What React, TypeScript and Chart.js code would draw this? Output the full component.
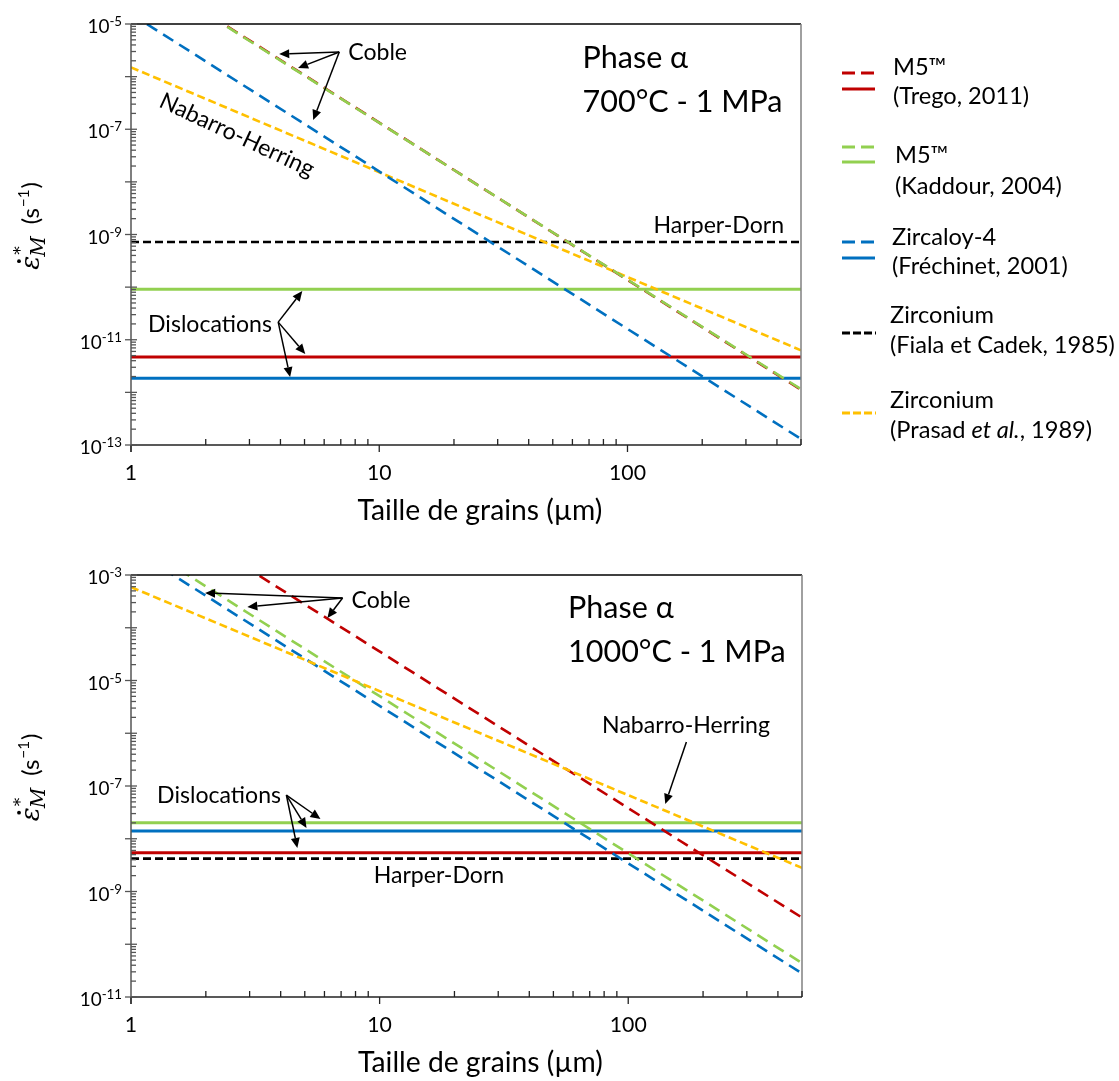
import React, { useEffect, useRef } from "react";
import { Chart, registerables } from "chart.js";

Chart.register(...registerables);

const FAMILY = "Lato, 'Open Sans', sans-serif";
const SERIF = "'DejaVu Serif', 'Liberation Serif', serif";

// ---------------- data ----------------
const grainSizes = [1, 500]; // µm, ends of each straight log-log line
const xMin = 1;
const xMax = 500;
const xTickLabels = ["1", "10", "100"];
const xTickValues = [1, 10, 100];

const topYMin = 1e-13;
const topYMax = 1e-5;
const topYExps = [-5, -7, -9, -11, -13];
const bottomYMin = 1e-11;
const bottomYMax = 1e-3;
const bottomYExps = [-3, -5, -7, -9, -11];

// 700 °C - 1 MPa
const t700_tregoCoble = [1.3e-4, 1.12e-12];
const t700_kaddourCoble = [1.26e-4, 1.15e-12];
const t700_frechinetCoble = [1.55e-5, 1.3e-13];
const t700_prasadNH = [1.5e-6, 6.3e-12];
const t700_fialaHD = [7.2e-10, 7.2e-10];
const t700_tregoDisl = [4.7e-12, 4.7e-12];
const t700_kaddourDisl = [9.1e-11, 9.1e-11];
const t700_frechinetDisl = [1.85e-12, 1.85e-12];

// 1000 °C - 1 MPa
const t1000_tregoCoble = [3.3e-2, 3.2e-10];
const t1000_kaddourCoble = [4.8e-3, 4.4e-11];
const t1000_frechinetCoble = [3.2e-3, 2.8e-11];
const t1000_prasadNH = [5.9e-4, 2.8e-9];
const t1000_fialaHD = [4.2e-9, 4.2e-9];
const t1000_tregoDisl = [5.4e-9, 5.4e-9];
const t1000_kaddourDisl = [2.0e-8, 2.0e-8];
const t1000_frechinetDisl = [1.4e-8, 1.4e-8];

// legend
const RED = "#C00000";
const GREEN = "#92D050";
const BLUE = "#0070C0";
const YELLOW = "#FFC000";
const BLACK = "#000000";
const legendColors = [RED, GREEN, BLUE, BLACK, YELLOW];
const legendKinds = ["coble", "coble", "coble", "short", "short"];
const legendHasSolid = [true, true, true, false, false];
const legendNames = ["M5™", "M5™", "Zircaloy-4", "Zirconium", "Zirconium"];
const legendRefs: [string, boolean][][] = [
  [["(Trego, 2011)", false]],
  [["(Kaddour, 2004)", false]],
  [["(Fréchinet, 2001)", false]],
  [["(Fiala et Cadek, 1985)", false]],
  [["(Prasad ", false], ["et al.", true], [", 1989)", false]],
];

// annotations (positions in log10 data space: [log d, log rate])
type Note = { s: string; lx: number; ly: number; cls: string; angle?: number; align?: string; base?: string };
const topNotes: Note[] = [
  { s: "Coble", lx: 0.875, ly: -5.684, cls: "note" },
  { s: "Nabarro-Herring", lx: 0.427, ly: -7.11, cls: "note", angle: 25, align: "center", base: "middle" },
  { s: "Harper-Dorn", lx: 2.105, ly: -8.973, cls: "note" },
  { s: "Dislocations", lx: 0.0686, ly: -10.856, cls: "note" },
  { s: "Phase α", lx: 1.819, ly: -5.837, cls: "big" },
  { s: "700°C - 1 MPa", lx: 1.819, ly: -6.673, cls: "big" },
];
const topArrows = [
  [0.839, -5.532, 0.597, -5.57],
  [0.839, -5.532, 0.673, -5.837],
  [0.839, -5.532, 0.734, -6.825],
  [0.593, -10.665, 0.69, -10.076],
  [0.593, -10.665, 0.702, -11.27],
  [0.593, -10.665, 0.641, -11.71],
];
const bottomNotes: Note[] = [
  { s: "Coble", lx: 0.887, ly: -3.626, cls: "note" },
  { s: "Nabarro-Herring", lx: 1.895, ly: -5.995, cls: "note" },
  { s: "Harper-Dorn", lx: 0.976, ly: -8.839, cls: "note" },
  { s: "Dislocations", lx: 0.105, ly: -7.322, cls: "note" },
  { s: "Phase α", lx: 1.758, ly: -3.815, cls: "big" },
  { s: "1000°C - 1 MPa", lx: 1.758, ly: -4.649, cls: "big" },
];
const bottomArrows = [
  [0.851, -3.436, 0.298, -3.341],
  [0.851, -3.436, 0.468, -3.607],
  [0.851, -3.436, 0.79, -3.815],
  [2.234, -6.166, 2.149, -7.341],
  [0.625, -7.171, 0.762, -7.626],
  [0.625, -7.171, 0.706, -7.796],
  [0.625, -7.171, 0.669, -8.175],
];

// ---------------- helpers ----------------
function pts(vals: number[]) {
  return grainSizes.map((d, i) => ({ x: d, y: vals[i] }));
}

function ds(vals: number[], color: string, kind: string) {
  const dash = kind === "coble" ? [12, 7] : kind === "short" ? [8, 4] : [];
  return {
    data: pts(vals),
    borderColor: color,
    backgroundColor: color,
    borderWidth: kind === "solid" ? 3 : 2.6,
    borderDash: dash,
    borderCapStyle: "butt",
    pointRadius: 0,
    tension: 0,
    fill: false,
    clip: 0,
  };
}

function fitSize(ctx: CanvasRenderingContext2D, sample: string, target: number, family: string) {
  ctx.font = `100px ${family}`;
  const w = ctx.measureText(sample).width;
  return (100 * target) / w;
}

function arrow(ctx: CanvasRenderingContext2D, x0: number, y0: number, x1: number, y1: number) {
  const ang = Math.atan2(y1 - y0, x1 - x0);
  const hl = 10;
  const hw = 4.5;
  const bx = x1 - hl * Math.cos(ang);
  const by = y1 - hl * Math.sin(ang);
  ctx.strokeStyle = "#000";
  ctx.fillStyle = "#000";
  ctx.lineWidth = 1.5;
  ctx.setLineDash([]);
  ctx.beginPath();
  ctx.moveTo(x0, y0);
  ctx.lineTo(bx, by);
  ctx.stroke();
  ctx.beginPath();
  ctx.moveTo(x1, y1);
  ctx.lineTo(bx - hw * Math.sin(ang), by + hw * Math.cos(ang));
  ctx.lineTo(bx + hw * Math.sin(ang), by - hw * Math.cos(ang));
  ctx.closePath();
  ctx.fill();
}

function drawYTitle(ctx: CanvasRenderingContext2D, cx: number, cy: number) {
  ctx.save();
  ctx.translate(cx, cy);
  ctx.rotate(-Math.PI / 2);
  ctx.fillStyle = "#000";
  ctx.textBaseline = "alphabetic";
  ctx.textAlign = "left";
  const epsFont = `italic 26px ${SERIF}`;
  const starFont = `17px ${SERIF}`;
  const mFont = `italic 20px ${SERIF}`;
  const mainFont = `24px ${FAMILY}`;
  const supFont = `15px ${FAMILY}`;
  ctx.font = epsFont;
  const wE = ctx.measureText("ε").width;
  ctx.font = starFont;
  const wS = ctx.measureText("*").width;
  ctx.font = mFont;
  const wM = ctx.measureText("M").width;
  ctx.font = mainFont;
  const wP = ctx.measureText("(s").width;
  const wC = ctx.measureText(")").width;
  ctx.font = supFont;
  const wN = ctx.measureText("−1").width;
  const gap = 10;
  const total = wE + Math.max(wS, wM) + gap + wP + wN + 2 + wC;
  let x = -total / 2;
  ctx.font = epsFont;
  ctx.fillText("ε", x, 0);
  ctx.beginPath();
  ctx.arc(x + wE * 0.62, -20, 1.9, 0, Math.PI * 2);
  ctx.fill();
  x += wE + 1;
  ctx.font = starFont;
  ctx.fillText("*", x, -13);
  ctx.font = mFont;
  ctx.fillText("M", x - 2, 6);
  x += Math.max(wS, wM) + gap;
  ctx.font = mainFont;
  ctx.fillText("(s", x, 0);
  x += wP + 1;
  ctx.font = supFont;
  ctx.fillText("−1", x, -10);
  x += wN + 1;
  ctx.font = mainFont;
  ctx.fillText(")", x, 0);
  ctx.restore();
}

type PanelCfg = {
  yExps: number[];
  notes: Note[];
  arrows: number[][];
  legend: boolean;
};

function makeDecor(cfg: PanelCfg) {
  return {
    id: "decor",
    afterDraw(chart: any) {
      const ctx: CanvasRenderingContext2D = chart.ctx;
      const a = chart.chartArea;
      const xs = chart.scales.x;
      const ys = chart.scales.y;
      const px = (lx: number) => xs.getPixelForValue(Math.pow(10, lx));
      const py = (ly: number) => ys.getPixelForValue(Math.pow(10, ly));
      ctx.save();
      ctx.setLineDash([]);

      // frame
      ctx.lineWidth = 1.5;
      ctx.strokeStyle = "#000";
      ctx.beginPath();
      ctx.moveTo(a.left, a.top);
      ctx.lineTo(a.right, a.top);
      ctx.stroke();
      ctx.strokeStyle = "#808080";
      ctx.beginPath();
      ctx.moveTo(a.right, a.top);
      ctx.lineTo(a.right, a.bottom);
      ctx.stroke();
      ctx.strokeStyle = "#222";
      ctx.beginPath();
      ctx.moveTo(a.left, a.bottom);
      ctx.lineTo(a.right, a.bottom);
      ctx.stroke();
      ctx.strokeStyle = "#555";
      ctx.beginPath();
      ctx.moveTo(a.left, a.top);
      ctx.lineTo(a.left, a.bottom + 7);
      ctx.stroke();

      // x ticks
      ctx.lineWidth = 1.3;
      ctx.strokeStyle = "#222";
      for (let dec = 0; dec <= 2; dec++) {
        for (let m = 1; m <= 9; m++) {
          const v = m * Math.pow(10, dec);
          if (v < xMin || v > xMax) continue;
          const x = xs.getPixelForValue(v);
          ctx.beginPath();
          if (m === 1) {
            ctx.moveTo(x, a.bottom);
            ctx.lineTo(x, a.bottom + 7);
          } else {
            ctx.moveTo(x, a.bottom);
            ctx.lineTo(x, a.bottom - 6);
          }
          ctx.stroke();
        }
      }
      // y ticks
      ctx.strokeStyle = "#555";
      const lo = Math.round(Math.log10(ys.min));
      const hi = Math.round(Math.log10(ys.max));
      for (let dec = lo; dec <= hi; dec++) {
        for (let m = 1; m <= 9; m++) {
          const v = m * Math.pow(10, dec);
          if (v < ys.min * 0.999 || v > ys.max * 1.001) continue;
          const y = ys.getPixelForValue(v);
          ctx.beginPath();
          if (m === 1) {
            ctx.moveTo(a.left - 6, y);
            ctx.lineTo(a.left + 6, y);
          } else {
            ctx.moveTo(a.left, y);
            ctx.lineTo(a.left + 5, y);
          }
          ctx.stroke();
        }
      }

      // tick labels
      ctx.fillStyle = "#000";
      const xSize = fitSize(ctx, "100", 37, FAMILY);
      ctx.font = `${xSize}px ${FAMILY}`;
      ctx.textAlign = "center";
      ctx.textBaseline = "alphabetic";
      xTickValues.forEach((v, i) => {
        ctx.fillText(xTickLabels[i], xs.getPixelForValue(v), a.bottom + 35);
      });
      const ySize = fitSize(ctx, "10", 22, FAMILY);
      const supSize = ySize * 0.7;
      cfg.yExps.forEach((e) => {
        const y = ys.getPixelForValue(Math.pow(10, e));
        const sup = "-" + String(-e);
        ctx.font = `${supSize}px ${FAMILY}`;
        const wSup = ctx.measureText(sup).width;
        ctx.textAlign = "left";
        ctx.fillText(sup, a.left - 9 - wSup, y + 2);
        ctx.font = `${ySize}px ${FAMILY}`;
        ctx.textAlign = "right";
        ctx.fillText("10", a.left - 9 - wSup, y + 9);
      });

      // axis titles
      const tSize = fitSize(ctx, "Taille de grains (µm)", 245, FAMILY);
      ctx.font = `${tSize}px ${FAMILY}`;
      ctx.textAlign = "center";
      ctx.fillText("Taille de grains (µm)", (a.left + a.right) / 2 + 14, a.bottom + 75);
      drawYTitle(ctx, 39, (a.top + a.bottom) / 2 - 8);

      // notes
      const noteSize = fitSize(ctx, "Dislocations", 124, FAMILY);
      const bigSize = fitSize(ctx, "700°C - 1 MPa", 200, FAMILY);
      cfg.notes.forEach((n) => {
        const size = n.cls === "big" ? bigSize : noteSize;
        ctx.save();
        ctx.translate(px(n.lx), py(n.ly));
        if (n.angle) ctx.rotate((n.angle * Math.PI) / 180);
        ctx.font = `${size}px ${FAMILY}`;
        ctx.textAlign = (n.align as CanvasTextAlign) || "left";
        ctx.textBaseline = (n.base as CanvasTextBaseline) || "alphabetic";
        ctx.fillStyle = "#000";
        ctx.fillText(n.s, 0, 0);
        ctx.restore();
      });
      cfg.arrows.forEach((r) => arrow(ctx, px(r[0]), py(r[1]), px(r[2]), py(r[3])));

      // legend
      if (cfg.legend) {
        const dashY = [73, 147, 242, 333, 413];
        const solidY = [89, 162, 258];
        const textX = [893, 895, 892, 890, 890];
        const nameBase = [75, 163, 245, 323, 408];
        const refBase = [104, 194, 274, 353, 438];
        const lSize = fitSize(ctx, "(Fiala et Cadek, 1985)", 225, FAMILY);
        legendColors.forEach((c, i) => {
          ctx.strokeStyle = c;
          ctx.lineWidth = 3;
          ctx.setLineDash(legendKinds[i] === "coble" ? [13, 6] : [8, 3]);
          ctx.beginPath();
          ctx.moveTo(842, dashY[i]);
          ctx.lineTo(876, dashY[i]);
          ctx.stroke();
          ctx.setLineDash([]);
          if (legendHasSolid[i]) {
            ctx.beginPath();
            ctx.moveTo(842, solidY[i]);
            ctx.lineTo(875, solidY[i]);
            ctx.stroke();
          }
          ctx.fillStyle = "#000";
          ctx.textAlign = "left";
          ctx.textBaseline = "alphabetic";
          ctx.font = `${lSize}px ${FAMILY}`;
          ctx.fillText(legendNames[i], textX[i], nameBase[i]);
          let x = textX[i];
          legendRefs[i].forEach(([s, it]) => {
            ctx.font = `${it ? "italic " : ""}${lSize}px ${FAMILY}`;
            ctx.fillText(s, x, refBase[i]);
            x += ctx.measureText(s).width;
          });
        });
      }
      ctx.restore();
    },
  };
}

function makeConfig(
  datasets: any[],
  yMin: number,
  yMax: number,
  padTop: number,
  padRight: number,
  xAxisH: number,
  cfg: PanelCfg
): any {
  return {
    type: "line",
    data: { datasets },
    options: {
      animation: false,
      responsive: false,
      maintainAspectRatio: false,
      layout: { padding: { top: padTop, right: padRight, left: 0, bottom: 0 } },
      plugins: { legend: { display: false }, tooltip: { enabled: false } },
      events: [],
      scales: {
        x: {
          type: "logarithmic",
          min: xMin,
          max: xMax,
          ticks: { display: false },
          grid: { display: false },
          border: { display: false },
          afterFit: (s: any) => {
            s.height = xAxisH;
          },
        },
        y: {
          type: "logarithmic",
          min: yMin,
          max: yMax,
          ticks: { display: false },
          grid: { display: false },
          border: { display: false },
          afterFit: (s: any) => {
            s.width = 131;
          },
        },
      },
    },
    plugins: [makeDecor(cfg)],
  };
}

export default function App() {
  const topRef = useRef<HTMLCanvasElement>(null);
  const botRef = useRef<HTMLCanvasElement>(null);
  useEffect(() => {
    document.body.style.margin = "0";
    // Chart.js paints the first dataset on top, so the list runs from front to back.
    const topSets = [
      ds(t700_kaddourCoble, GREEN, "coble"),
      ds(t700_tregoCoble, RED, "coble"),
      ds(t700_frechinetCoble, BLUE, "coble"),
      ds(t700_prasadNH, YELLOW, "short"),
      ds(t700_fialaHD, BLACK, "short"),
      ds(t700_frechinetDisl, BLUE, "solid"),
      ds(t700_tregoDisl, RED, "solid"),
      ds(t700_kaddourDisl, GREEN, "solid"),
    ];
    const botSets = [
      ds(t1000_prasadNH, YELLOW, "short"),
      ds(t1000_kaddourCoble, GREEN, "coble"),
      ds(t1000_frechinetCoble, BLUE, "coble"),
      ds(t1000_tregoCoble, RED, "coble"),
      ds(t1000_fialaHD, BLACK, "short"),
      ds(t1000_tregoDisl, RED, "solid"),
      ds(t1000_frechinetDisl, BLUE, "solid"),
      ds(t1000_kaddourDisl, GREEN, "solid"),
    ];
    const c1 = new Chart(
      topRef.current as HTMLCanvasElement,
      makeConfig(topSets, topYMin, topYMax, 24, 318, 540 - 445, {
        yExps: topYExps,
        notes: topNotes,
        arrows: topArrows,
        legend: true,
      })
    );
    const c2 = new Chart(
      botRef.current as HTMLCanvasElement,
      makeConfig(botSets, bottomYMin, bottomYMax, 35, 317, 541 - 457, {
        yExps: bottomYExps,
        notes: bottomNotes,
        arrows: bottomArrows,
        legend: false,
      })
    );
    return () => {
      c1.destroy();
      c2.destroy();
    };
  }, []);
  return (
    <div style={{ position: "relative", width: 1119, height: 1081, background: "#fff" }}>
      <canvas
        ref={topRef}
        width={1119}
        height={540}
        style={{ position: "absolute", left: 0, top: 0, width: 1119, height: 540 }}
      />
      <canvas
        ref={botRef}
        width={1119}
        height={541}
        style={{ position: "absolute", left: 0, top: 540, width: 1119, height: 541 }}
      />
    </div>
  );
}
